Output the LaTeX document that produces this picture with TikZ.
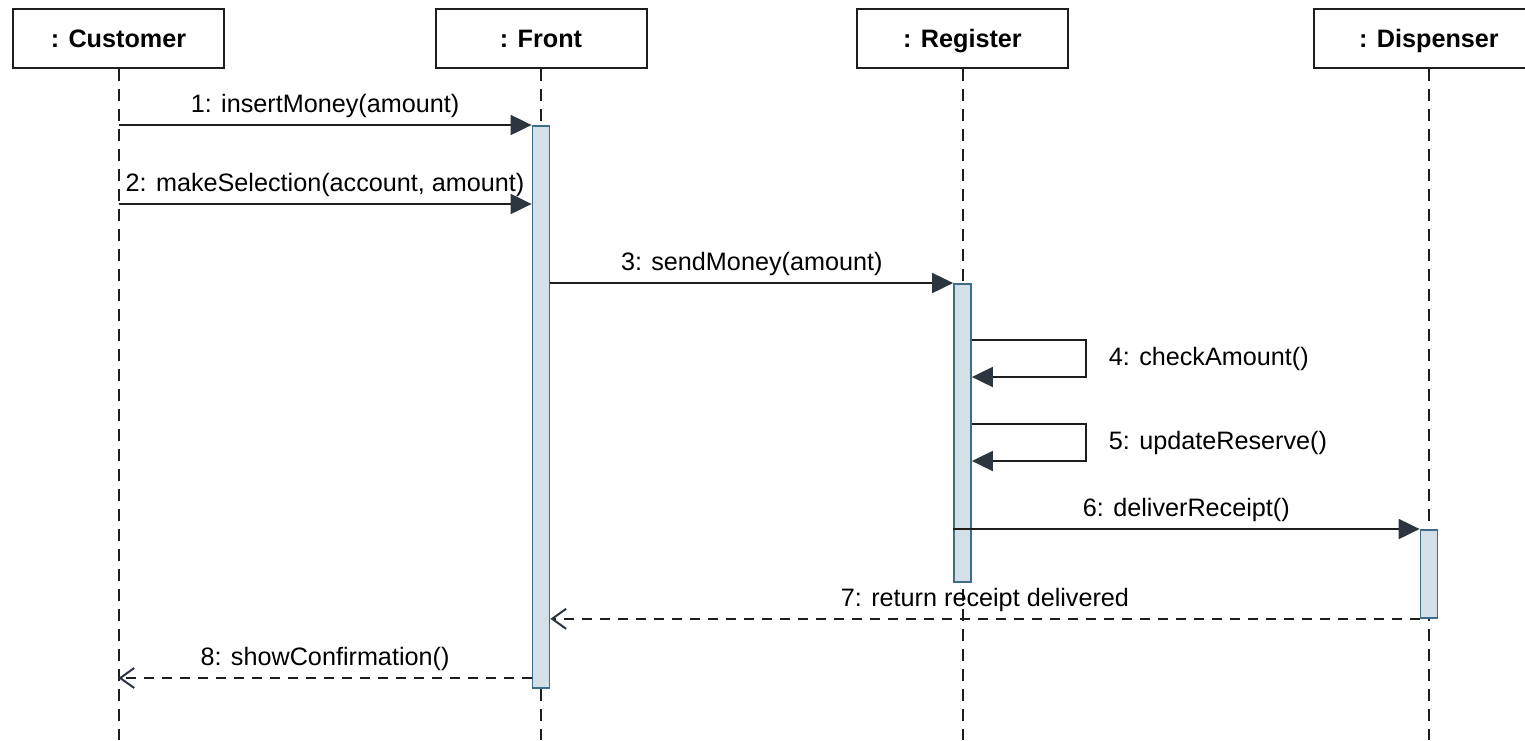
\documentclass[tikz,border=0pt]{standalone}
\usepackage{fontspec}
\setmainfont{Liberation Sans}
\usetikzlibrary{arrows.meta,positioning,calc}
\definecolor{actfill}{HTML}{D5DFE8}
\definecolor{actdraw}{HTML}{3E6D8A}
\definecolor{tipcol}{HTML}{2D3540}
\definecolor{inkcol}{HTML}{1E1E1E}
\tikzset{
  x=0.5pt,y=-0.5pt,
  lifebox/.style={draw=inkcol,line width=1pt,minimum width=105.5pt,
    minimum height=29.5pt,inner sep=0pt,text height=9pt,text depth=0pt,
    font=\bfseries\fontsize{12.6}{14}\selectfont},
  lifeline/.style={draw=inkcol,line width=1pt,dash pattern=on 6pt off 4pt},
  act/.style={draw=actdraw,fill=actfill,line width=0.9pt,minimum width=8.5pt,
    inner sep=0pt,anchor=north},
  msg/.style={draw=inkcol,line width=1pt,
    -{Triangle[length=10.5pt,width=10pt,color=tipcol]}},
  ret/.style={draw=inkcol,line width=1pt,dash pattern=on 5pt off 4pt,
    -{Straight Barb[length=7pt,width=10pt,color=tipcol,line width=1pt]}},
  msglbl/.style={font=\fontsize{12.6}{14}\selectfont,inner sep=3pt},
}
\begin{document}
\begin{tikzpicture}
  \useasboundingbox (0,0) rectangle (1525,740);
  % objects and their lifelines
  \foreach \n/\x/\w/\t in {cust/118.5/105.5/Customer,front/541/105.5/Front,
      reg/962.5/105.5/Register,disp/1429/115/Dispenser}{
    \node[lifebox,minimum width=\w pt] (\n) at (\x,38.5) {: \t};
    \draw[lifeline] (\n.south) -- (\n.south |- 0,740);
  }
  % activation bars
  \node[act,minimum height=281pt] (actF) at (front |- 0,125) {};
  \node[act,minimum height=149pt] (actR) at (reg |- 0,283) {};
  \node[act,minimum height=44pt]  (actD) at (disp |- 0,529) {};
  % message rows
  \coordinate (m2) at (0,204);
  \coordinate (m4) at (0,340);
  \coordinate (m5) at (0,424);
  \coordinate (m8) at (0,678);
  \draw[msg] (cust |- actF.north) -- node[msglbl,above] {1: insertMoney(amount)} (actF.north west);
  \draw[msg] (cust |- m2) -- node[msglbl,above] {2: makeSelection(account, amount)} (actF.west |- m2);
  \draw[msg] (actF.east |- actR.north) -- node[msglbl,above] {3: sendMoney(amount)} (actR.north west);
  \draw[msg] (actR.east |- m4) -- ++(114,0) |- ($(actR.east |- m4)+(0,37)$)
    node[msglbl,anchor=west,pos=0.25,xshift=8pt] {4: checkAmount()};
  \draw[msg] (actR.east |- m5) -- ++(114,0) |- ($(actR.east |- m5)+(0,37)$)
    node[msglbl,anchor=west,pos=0.25,xshift=8pt] {5: updateReserve()};
  \draw[msg] (actR.west |- actD.north) -- node[msglbl,above] {6: deliverReceipt()} (actD.north west);
  \draw[ret] (actD.south west) -- node[msglbl,above] {7: return receipt delivered} (actF.east |- actD.south);
  \draw[ret] (actF.west |- m8) -- node[msglbl,above] {8: showConfirmation()} (cust |- m8);
\end{tikzpicture}
\end{document}
